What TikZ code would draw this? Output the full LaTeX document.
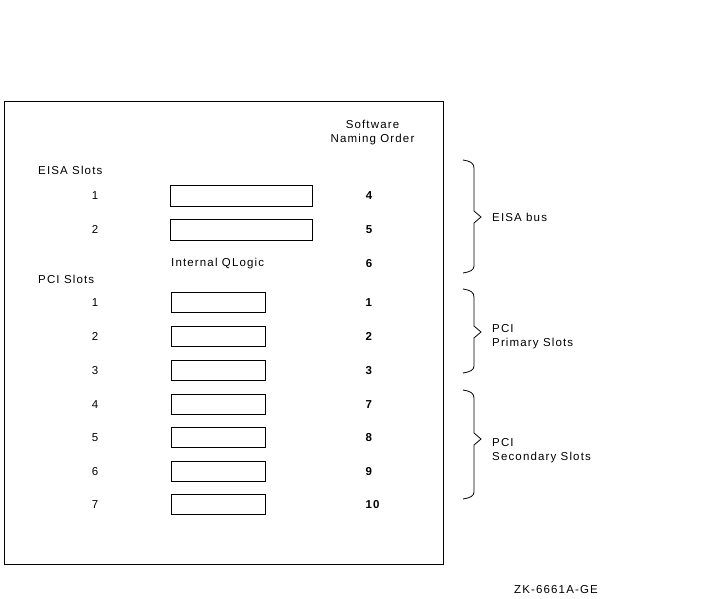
\documentclass[tikz,border=0pt]{standalone}
\usepackage{fontspec}
\setmainfont{Liberation Sans}[LetterSpace=10]
\begin{document}
\begin{tikzpicture}[x=1pt,y=-1pt,
  txt/.style={inner sep=0pt,font=\fontsize{11.5}{13}\selectfont},
  num/.style={txt,font=\fontsize{11.5}{13}\selectfont\bfseries},
  slotbox/.style={draw,line width=0.8pt,inner sep=0pt,anchor=north west},
  brace/.style={line width=0.8pt}]
\useasboundingbox (0,0) rectangle (709,599);
\node[draw,line width=0.8pt,inner sep=0pt,anchor=north west,minimum width=439pt,minimum height=463pt] (frame) at (4,101) {};
% header
\node[txt,align=center] (hdr) at (372.5,133) {Software\\[1pt]Naming Order};
\node[txt,anchor=west] (eisa) at (38,170.5) {EISA Slots};
\node[txt,anchor=west] (pci) at (38,279.5) {PCI Slots};
\node[txt,anchor=west] (ql) at (171,263.5) {Internal QLogic};
% EISA slots
\node[slotbox,minimum width=142pt,minimum height=21pt] (e1) at (170,185) {};
\node[slotbox,minimum width=142pt,minimum height=21pt] (e2) at (170,219) {};
\node[txt] (el1) at (95,195.5) {1};
\node[txt] (el2) at (95,229.5) {2};
\node[num] (er1) at (369,195.5) {4};
\node[num] (er2) at (369,229.5) {5};
\node[num] (er3) at (369,263.5) {6};
% PCI slots
\foreach \i/\y/\r in {1/302/1,2/336/2,3/370/3,4/404/7,5/437/8,6/471/9,7/504/10}{
  \node[slotbox,minimum width=94pt,minimum height=20pt] (p\i) at (171,\y-10) {};
  \node[txt] (pl\i) at (95,\y+0.5) {\i};
  \node[num,anchor=west] (pr\i) at (365.5,\y+0.5) {\r};
}
% braces
\draw[brace] (463,160) .. controls (470,161) and (474,163) .. (474,168) -- (474,211) -- (481,217) -- (474,223) -- (474,266) .. controls (474,270) and (470,272) .. (463,273);
\draw[brace] (463,289) .. controls (470,290) and (474,292) .. (474,297) -- (474,326) -- (481,332) -- (474,338) -- (474,366) .. controls (474,370) and (470,372) .. (463,373);
\draw[brace] (463,390) .. controls (470,391) and (474,393) .. (474,398) -- (474,433) -- (481,439) -- (474,445) -- (474,492) .. controls (474,496) and (470,498) .. (463,499);
\node[txt,anchor=west] (lb1) at (492,217.5) {EISA bus};
\node[txt,anchor=west,align=left] (lb2) at (492,337) {PCI\\[1pt]Primary Slots};
\node[txt,anchor=west,align=left] (lb3) at (492,451) {PCI\\[1pt]Secondary Slots};
\node[txt] (zk) at (556,589.5) {ZK-6661A-GE};
\end{tikzpicture}
\end{document}
